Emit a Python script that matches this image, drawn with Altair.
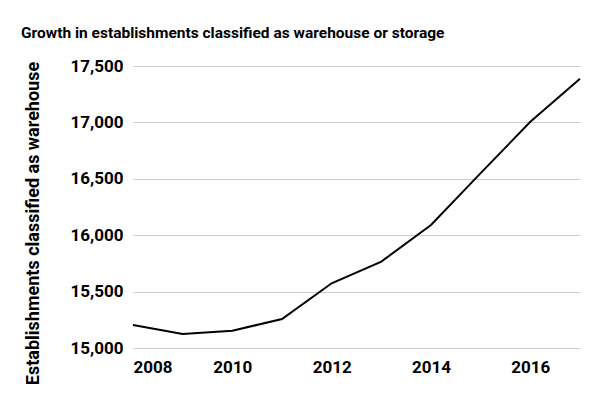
import altair as alt
import pandas as pd

years = [2008, 2009, 2010, 2011, 2012, 2013, 2014, 2015, 2016, 2017]
establishments = [15204, 15124, 15153, 15257, 15574, 15766, 16091, 16550, 17005, 17386]
x_ticks = [2008, 2010, 2012, 2014, 2016]
y_ticks = [15000, 15500, 16000, 16500, 17000, 17500]

df = pd.DataFrame({"year": years, "value": establishments})

FONT = "Roboto"

chart = alt.Chart(df).mark_line(color="#000000", strokeWidth=2).encode(
    x=alt.X("year:Q",
            scale=alt.Scale(domain=[2008, 2017], nice=False, zero=False),
            axis=alt.Axis(values=x_ticks, format="d", title=None, grid=False,
                          domain=False, ticks=False, labelPadding=11,
                          labelFontSize=17, labelFontWeight="bold",
                          labelColor="#000000", labelFont=FONT,
                          labelOverlap=False)),
    y=alt.Y("value:Q",
            scale=alt.Scale(domain=[15000, 17500], nice=False, zero=False),
            axis=alt.Axis(values=y_ticks, format=",.0f", title="Establishments classified as warehouse",
                          grid=True, gridColor="#cccccc", gridWidth=1,
                          domain=False, ticks=False, labelPadding=10,
                          labelFontSize=17, labelFontWeight="bold",
                          labelColor="#000000", labelFont=FONT,
                          titleFont=FONT, titleFontSize=18, titleFontWeight="bold",
                          titleColor="#000000", titleAngle=-90,
                          titleX=-100, titleY=157, titleAlign="center",
                          titleBaseline="middle")),
).properties(
    width=447,
    height=282,
    title=alt.TitleParams(
        "Growth in establishments classified as warehouse or storage",
        anchor="start", frame="group", dx=-112, offset=4,
        font=FONT, fontSize=15.5, fontWeight="bold", color="#000000",
        baseline="alphabetic"),
    autosize=alt.AutoSizeParams(type="none"),
    padding={"left": 125, "top": 58, "right": 12, "bottom": 43},
).configure_view(stroke=None)

chart.save("out.html", embed_options={"renderer": "svg", "actions": False})
